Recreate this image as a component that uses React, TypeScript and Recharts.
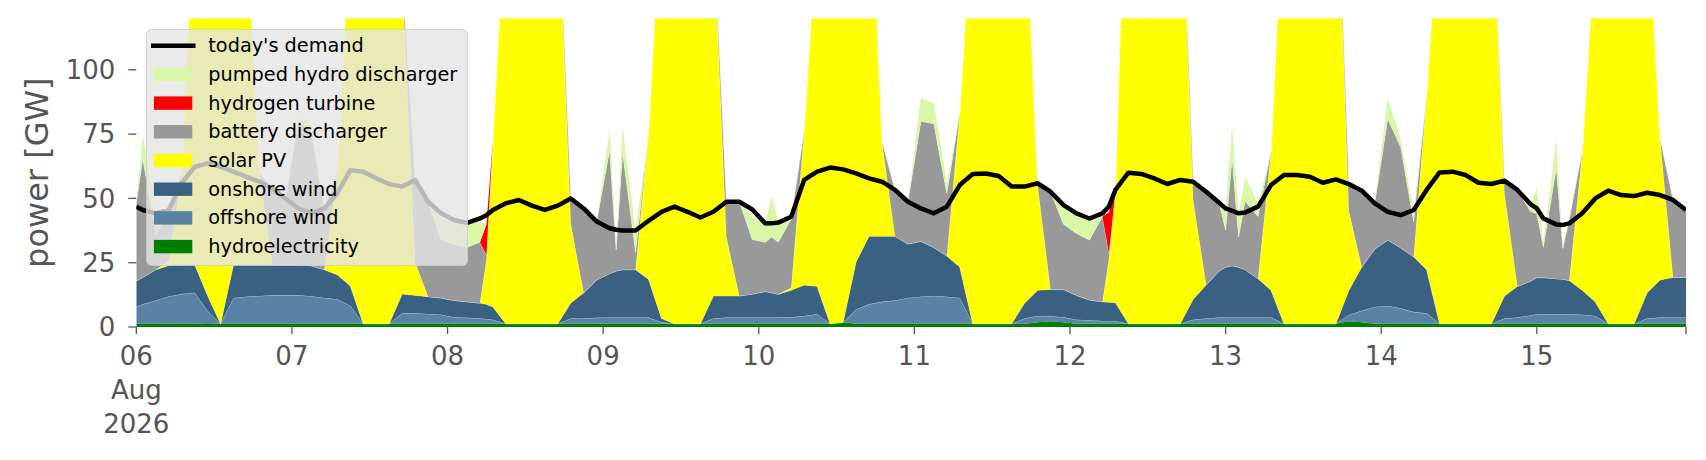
import React from 'react';
import { ComposedChart, Area, Line, XAxis, YAxis, Legend, Label } from 'recharts';

// hours since 06 Aug 2026 00:00
const hours = [
  0, 1, 3, 5, 7, 9, 11, 13, 15, 17, 19, 21, 23,
  25, 27, 29, 31, 33, 35, 37, 39, 41, 43, 45, 47,
  49, 51, 53, 54, 55, 57, 59, 61, 63, 65, 67, 69, 71,
  73, 74, 75, 77, 79, 81, 83, 85, 87, 89, 91, 93, 95,
  97, 98, 99, 101, 103, 105, 107, 109, 111, 113, 115, 117, 119,
  121, 123, 125, 127, 129, 131, 133, 135, 137, 139, 141, 143,
  145, 147, 149, 150, 151, 153, 155, 157, 159, 161, 163, 165, 167,
  168, 169, 170, 171, 173, 175, 177, 179, 181, 183, 185, 187, 189, 191,
  193, 195, 197, 199, 201, 203, 205, 207, 209, 211, 213, 215,
  216, 217, 219, 220, 221, 223, 225, 227, 229, 231, 233, 235, 237, 239,
];

const hydroelectricity = [
  1.3, 1.3, 1.3, 1.4, 1.3, 1.3, 1.2, 1.3, 1.3, 1.3, 1.3, 1.3, 1.3,
  1.3, 1.3, 1.3, 1.3, 1.3, 1.3, 1.3, 1.3, 1.3, 1.3, 1.3, 1.3,
  1.3, 1.3, 1.3, 1.3, 1.3, 1.3, 1.3, 1.3, 1.3, 1.3, 1.3, 1.3, 1.3,
  1.3, 1.3, 1.3, 1.3, 1.3, 1.3, 1.3, 1.3, 1.3, 1.3, 1.3, 1.3, 1.3,
  1.3, 1.3, 1.3, 1.3, 1.3, 1.3, 1.3, 1.8, 1.3, 1.3, 1.3, 1.3, 1.3,
  1.3, 1.3, 1.3, 1.3, 1.3, 1.3, 1.3, 1.3, 1.3, 1.8, 2.2, 1.8,
  1.3, 1.3, 1.3, 1.3, 1.3, 1.3, 1.3, 1.3, 1.3, 1.3, 1.3, 1.3, 1.3,
  1.3, 1.3, 1.3, 1.3, 1.3, 1.3, 1.3, 1.3, 1.3, 1.3, 1.3, 2.2, 1.8, 1.3,
  1.3, 1.3, 1.3, 1.3, 1.3, 1.3, 1.3, 1.3, 1.3, 1.3, 1.3, 1.3,
  1.3, 1.3, 1.3, 1.3, 1.3, 1.3, 1.3, 1.3, 1.3, 1.3, 1.3, 1.3, 1.3, 1.3,
];

const offshoreWind = [
  6.6, 7.5, 9, 10.5, 11.5, 12, 5, 0, 10, 10.5, 10.8, 11, 11,
  11, 10.7, 10, 9.5, 7, 0, 0, 0, 4, 4, 3.8, 3.5,
  2.5, 2.3, 2, 1.8, 1.5, 0, 0, 0, 0, 0, 2, 2, 2.3,
  2.4, 2.4, 2.4, 2.4, 2.4, 0.5, 0, 0, 0, 2, 2.4, 2.4, 2.4,
  2.4, 2.4, 2.4, 2.5, 3, 3.7, 0, 0, 5.5, 7.5, 8.5, 9, 10,
  10.5, 10.8, 10.5, 10, 0, 0, 0, 0, 2, 2.5, 2, 2,
  1.5, 1.3, 1, 1, 1, 0, 0, 0, 0, 0, 1.5, 2, 2.4,
  2.4, 2.4, 2.4, 2.4, 2.4, 2.4, 0, 0, 0, 0, 0, 2.5, 4.5, 6.5,
  6.9, 6, 4.5, 4, 0, 0, 0, 0, 0, 2, 2.4, 3.2,
  3.7, 3.7, 3.7, 3.7, 3.7, 3.5, 3, 0, 0, 0, 2, 2.4, 2.4, 2.4,
];

const onshoreWind = [
  10, 10.5, 12, 12, 11.5, 11, 6, 0, 13, 12.5, 12.2, 12, 12,
  12, 11.8, 11, 9.5, 7.7, 0, 0, 0, 7.5, 7, 6.7, 6.5,
  6.5, 6.2, 6, 5.7, 5, 0, 0, 0, 0, 0, 6, 10, 14.7,
  17.1, 18.1, 18.6, 18.6, 14.9, 1.5, 0, 0, 0, 8.8, 8.4, 8.4, 9.1,
  10.1, 9.6, 9, 10.5, 12, 10.8, 0, 0, 18.5, 26.5, 25.5, 25, 21,
  21.5, 18.8, 15.8, 12, 0, 0, 0, 0, 6, 10, 10.4, 10.8,
  9.5, 7.9, 7.5, 7.3, 7.2, 0, 0, 0, 0, 0, 8, 13, 18.1,
  19.6, 20.1, 19.6, 18.6, 15.1, 10.6, 0, 0, 0, 0, 0, 9.5, 17, 22.5,
  25.6, 23.5, 21.5, 17, 0, 0, 0, 0, 0, 8.8, 12.1, 13.3,
  14.2, 14.2, 13.8, 13.6, 13.1, 9.5, 5.5, 0, 0, 0, 10, 14.6, 15.6, 15.6,
];

const solarPV = [
  0, 0, 0, 2, 36, 145, 300, 350, 300, 136, 36, 0, 0,
  0, 0, 0, 40, 144, 300, 300, 250, 124.5, 13, 0, 0,
  0, 0, 0, 17.5, 65, 166, 300, 300, 260, 172, 31, 0, 0,
  0, 0, 0, 0, 56.7, 167, 300, 300, 280, 144, 23, 0, 0,
  0, 0, 0, 1, 60, 140.5, 300, 320, 300, 157, 37, 0, 0,
  0, 0, 0, 60, 164, 300, 300, 260, 164, 41, 0, 0,
  0, 0, 0, 17, 42.8, 220, 300, 300, 260, 190, 38.5, 0, 0,
  0, 0, 0, 0, 0, 54, 171, 300, 300, 260, 194, 31, 0, 0,
  0, 0, 0, 68, 164, 300, 300, 260, 175, 40, 0, 0,
  0, 0, 0, 0, 0, 54, 138.5, 250, 300, 300, 154, 55, 0, 0,
];

const batteryDischarger = [
  30.1, 46.3, 13.7, 18.2, 0, 0, 0, 0, 0, 0, 0, 29.2, 25.7,
  55.7, 52.2, 23.7, 0, 0, 0, 0, 0, 0, 31.7, 36.9, 22.7,
  21.7, 21.2, 23.7, 1.7, 0, 0, 0, 0, 0, 0, 9.7, 32.8, 22.7,
  48, 8.2, 45.7, 6.7, 0, 0, 0, 0, 0, 0, 13.6, 36.6, 21.2,
  19.2, 21.7, 20.3, 26.7, 0, 0, 0, 0, 0, 0, 0, 18, 16.4,
  46.7, 48.1, 24.4, 0, 0, 0, 0, 0, 0, 0.6, 38, 25.4,
  24.1, 23.3, 33.2, 2, 0, 0, 0, 0, 0, 0, 7.2, 36.3, 26.5,
  14.4, 42.2, 11.7, 26.7, 24.2, 0, 0, 0, 0, 0, 0, 10.4, 29.7, 17.8,
  47.2, 39.2, 13.7, 0, 0, 0, 0, 0, 0, 4.8, 37.5, 27.2,
  24.8, 11.8, 43.2, 11.9, 23.9, 0, 0, 0, 0, 0, 0, 0, 30.1, 26.2,
];

const hydrogenTurbine = [
  0, 0, 0, 0, 0, 0, 0, 0, 0, 0, 0, 0, 0,
  0, 0, 0, 0, 0, 0, 0, 0, 0, 0, 0, 0,
  0, 0, 0, 12, 0, 0, 0, 0, 0, 0, 0, 0, 0,
  0, 0, 0, 0, 0, 0, 0, 0, 0, 0, 0, 0, 0,
  0, 0, 0, 0, 0, 0, 0, 0, 0, 0, 0, 0, 0,
  0, 0, 0, 0, 0, 0, 0, 0, 0, 0, 0, 0,
  0, 0, 0, 16, 0, 0, 0, 0, 0, 0, 0, 0, 0,
  0, 0, 0, 0, 0, 0, 0, 0, 0, 0, 0, 0, 0, 0,
  0, 0, 0, 0, 0, 0, 0, 0, 0, 0, 0, 0,
  0, 0, 0, 0, 0, 0, 0, 0, 0, 0, 0, 0, 0, 0,
];

const pumpedHydroDischarger = [
  0, 9, 8, 0, 0, 0, 0, 0, 0, 0, 0, 0, 0,
  3, 3, 0, 0, 0, 0, 0, 0, 0, 0, 0, 8,
  9, 9.5, 8, 0, 0, 0, 0, 0, 0, 0, 0, 0, 0,
  7.8, 1, 10, 8.5, 0, 0, 0, 0, 0, 0, 0, 0, 9,
  7.5, 16, 8, 0, 0, 0, 0, 0, 0, 0, 0, 0, 0,
  9, 8, 4, 0, 0, 0, 0, 0, 0, 0, 0, 7,
  7.6, 9.1, 1, 0, 0, 0, 0, 0, 0, 0, 0, 0, 0,
  8.3, 12.5, 9, 9, 5, 0, 0, 0, 0, 0, 0, 0, 0, 0,
  8, 3, 4, 0, 0, 0, 0, 0, 0, 0, 0, 2.8,
  10, 2, 10.7, 0.5, 1, 0, 0, 0, 0, 0, 0, 0, 0, 0,
];

const todaysDemand = [
  46.8, 45.5, 44.2, 45.5, 55.9, 62.3, 63.6, 62.3, 60.4, 58.4, 56.5, 53.9, 50,
  46.1, 44.2, 46.1, 52, 61, 60.4, 57.8, 55.6, 54.6, 57.2, 48.7, 44.2,
  41.6, 40.5, 42.2, 43.5, 45.5, 48.1, 49.4, 47.2, 45.5, 47.2, 50, 46.1, 41,
  38.4, 37.8, 37.5, 37.5, 41.3, 44.8, 46.8, 44.8, 42.6, 44.8, 48.7, 48.7, 45.7,
  40.3, 40.3, 40.6, 42.9, 57.2, 60.4, 62, 61.3, 59.7, 57.8, 56.5, 53.3, 48.7,
  46.1, 44.2, 46.8, 55.2, 59.5, 59.7, 58.7, 54.6, 54.6, 55.9, 52.6, 47.4,
  44.2, 42.2, 44.2, 46.8, 53.3, 60, 59.5, 57.8, 55.6, 57.2, 56.5, 52.6, 48.3,
  46.1, 45.2, 44.2, 44.5, 46.8, 55.2, 59.1, 59.1, 58.4, 56.1, 57.4, 55.6, 53, 48.1,
  44.8, 43.5, 45.5, 53.3, 60.1, 60.4, 59.1, 56.1, 55.6, 56.9, 53.3, 47.8,
  46.1, 42.2, 39.9, 39.7, 40.3, 44.2, 50, 53, 51.3, 50.9, 52.2, 51.3, 49.4, 45.5,
];

const dayTicks = [0, 24, 48, 72, 96, 120, 144, 168, 192, 216];
const dayLabels = ['06', '07', '08', '09', '10', '11', '12', '13', '14', '15'];
const endTick = 239;
const monthLabel = 'Aug';
const yearLabel = '2026';
const yTicks = [0, 25, 50, 75, 100];

const data = hours.map((h, i) => ({
  h,
  hydro: hydroelectricity[i],
  offshore: offshoreWind[i],
  onshore: onshoreWind[i],
  solar: solarPV[i],
  battery: batteryDischarger[i],
  hydrogen: hydrogenTurbine[i],
  phs: pumpedHydroDischarger[i],
  demand: todaysDemand[i],
}));

const stackSeries = [
  { key: 'hydro', name: 'hydroelectricity', color: '#008000', seam: false },
  { key: 'offshore', name: 'offshore wind', color: '#5a82a5', seam: true },
  { key: 'onshore', name: 'onshore wind', color: '#3b6182', seam: true },
  { key: 'solar', name: 'solar PV', color: '#ffff00', seam: true },
  { key: 'battery', name: 'battery discharger', color: '#999999', seam: true },
  { key: 'hydrogen', name: 'hydrogen turbine', color: '#ff0000', seam: false },
  { key: 'phs', name: 'pumped hydro discharger', color: '#d9f7a7', seam: false },
];

const legendItems = [
  { name: "today's demand", color: '#000000', line: true },
  ...stackSeries.slice().reverse().map((s) => ({ name: s.name, color: s.color, line: false })),
];

const FONT = 'DejaVu Sans';
const TXT = '#555555';

const renderLegend = () => (
  <svg width={323} height={238} style={{ display: 'block' }}>
    <rect x={0.5} y={0.5} width={321} height={236} rx={5} ry={5}
      fill="#e5e5e5" fillOpacity={0.8} stroke="#cccccc" strokeOpacity={0.8} />
    {legendItems.map((it, i) => {
      const cy = 16.7 + 28.7 * i;
      return (
        <g key={it.name}>
          {it.line ? (
            <line x1={5} x2={49.5} y1={cy} y2={cy} stroke={it.color} strokeWidth={4.6} />
          ) : (
            <rect x={7.9} y={cy - 6.7} width={38.4} height={13.4} fill={it.color} />
          )}
          <text x={62.3} y={cy} dominantBaseline="central" fontFamily={FONT} fontSize={19.3} fill="#000">
            {it.name}
          </text>
        </g>
      );
    })}
  </svg>
);

const XTick = (props: any) => {
  const { x, payload } = props;
  const idx = dayTicks.indexOf(payload.value);
  if (idx < 0) return <g />;
  return (
    <g>
      <text x={x} y={357} textAnchor="middle" fontFamily={FONT} fontSize={26} fill={TXT}>{dayLabels[idx]}</text>
      {idx === 0 && (
        <>
          <text x={x} y={391} textAnchor="middle" fontFamily={FONT} fontSize={26} fill={TXT}>{monthLabel}</text>
          <text x={x} y={424.5} textAnchor="middle" fontFamily={FONT} fontSize={26} fill={TXT}>{yearLabel}</text>
        </>
      )}
    </g>
  );
};

export default function App() {
  return (
    <div style={{ width: 1690, height: 444, fontFamily: FONT }}>
      <ComposedChart width={1690} height={444} data={data}
        margin={{ top: 10.4, right: 12, bottom: 65, left: 28.3 }}>
        <XAxis dataKey="h" type="number" domain={[0, 239]} allowDataOverflow
          ticks={[...dayTicks, endTick]} interval={0} tick={<XTick />}
          tickLine={{ stroke: TXT, strokeWidth: 1.3 }} tickSize={7} axisLine={false} height={60} />
        <YAxis type="number" domain={[0, 120]} allowDataOverflow ticks={yTicks} interval={0}
          width={100} tickSize={8} tickMargin={13} axisLine={false}
          tickLine={{ stroke: TXT, strokeWidth: 1.3 }}
          tick={{ fill: TXT, fontSize: 26, fontFamily: FONT }}>
          <Label content={() => (
            <text x={29} y={164.7} transform="rotate(-90 29 164.7)" textAnchor="middle"
              dominantBaseline="central" fill={TXT} fontSize={32} fontFamily={FONT}>power [GW]</text>
          )} />
        </YAxis>
        {stackSeries.map((s) => (
          <Area key={s.key} type="linear" dataKey={s.key} name={s.name} stackId="gen"
            fill={s.color} fillOpacity={1}
            stroke={s.seam ? '#ffffff' : 'none'} strokeOpacity={0.55} strokeWidth={0.8}
            dot={false} activeDot={false} isAnimationActive={false} />
        ))}
        <Line type="linear" dataKey="demand" name="today's demand" stroke="#000000" strokeWidth={4.5}
          strokeLinejoin="round" dot={false} activeDot={false} isAnimationActive={false} />
        <Legend content={renderLegend} layout="horizontal" verticalAlign="middle" align="center"
          wrapperStyle={{ position: 'absolute', left: 138.4, top: 21.3, width: 323, height: 238, margin: 0, padding: 0 }} />
      </ComposedChart>
    </div>
  );
}
